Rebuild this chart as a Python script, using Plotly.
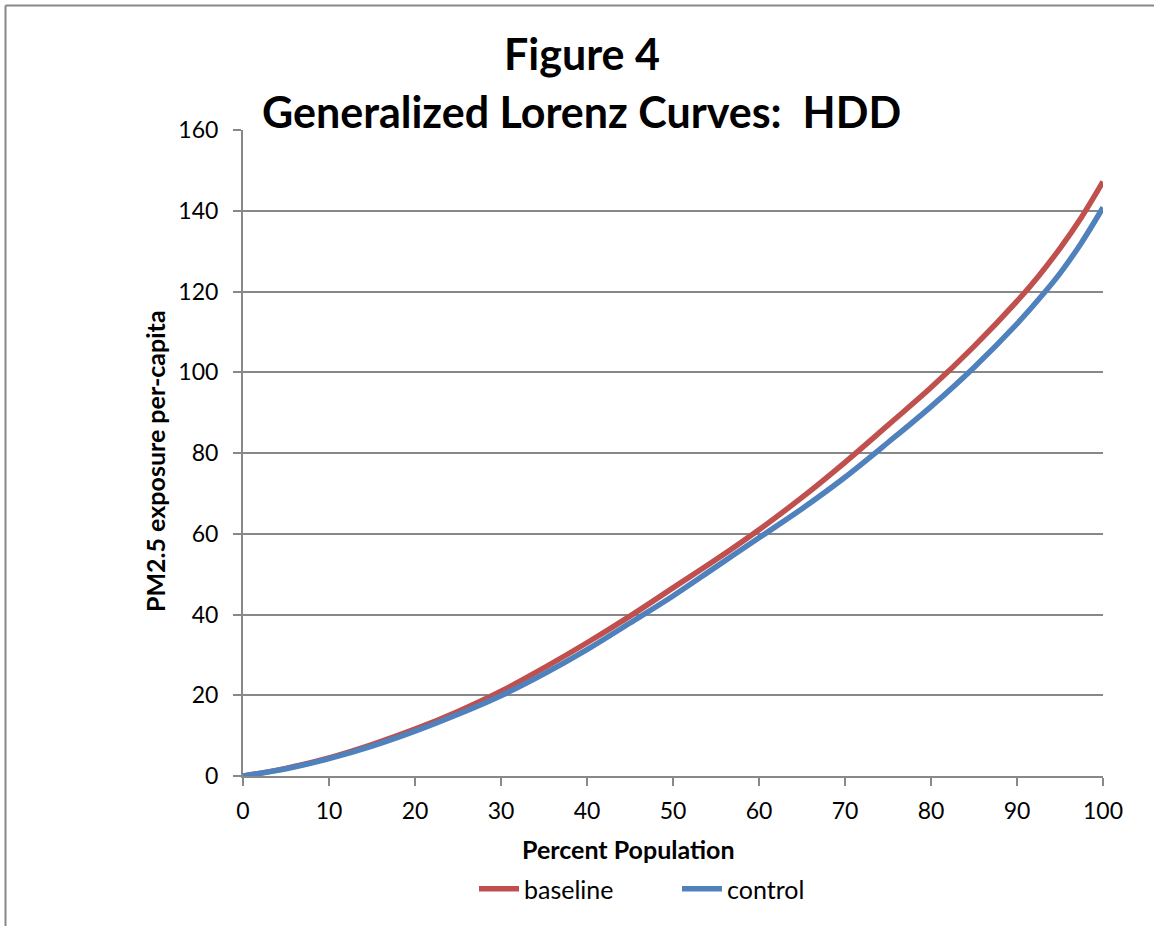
import plotly.graph_objects as go

# Data
pct_population = [0, 5, 10, 15, 20, 25, 30, 35, 40, 45, 50, 55, 60, 65, 70, 75, 80, 85, 90, 92.5, 95, 97.5, 100]
baseline = [0, 1.9, 4.5, 7.8, 11.6, 16.0, 21.0, 26.8, 33.0, 39.6, 46.6, 53.6, 61.0, 69.0, 77.7, 86.9, 96.2, 106.4, 117.6, 123.8, 130.7, 138.4, 147.2]
control = [0, 1.8, 4.3, 7.4, 11.1, 15.3, 19.9, 25.3, 31.3, 37.9, 44.6, 51.8, 59.0, 66.2, 74.0, 82.6, 91.5, 101.2, 112.0, 118.0, 124.5, 132.1, 140.8]
series_names = ["baseline", "control"]
x_ticks = [0, 10, 20, 30, 40, 50, 60, 70, 80, 90, 100]
y_ticks = [0, 20, 40, 60, 80, 100, 120, 140, 160]

FONT = "Lato"
GRID = "#888888"

W, H = 1154, 926
L, R, T, B = 243, 51, 130, 150
pw, ph = W - L - R, H - T - B

def px_x(p):
    return (p - L) / pw

def px_y(p):
    return (H - B - p) / ph

fig = go.Figure()
fig.add_trace(go.Scatter(x=pct_population, y=baseline, mode="lines", name=series_names[0],
                         line=dict(color="#C0504D", width=5.5, shape="spline", smoothing=1.0)))
fig.add_trace(go.Scatter(x=pct_population, y=control, mode="lines", name=series_names[1],
                         line=dict(color="#4F81BD", width=5.5, shape="spline", smoothing=1.0)))

fig.update_layout(
    width=W, height=H,
    margin=dict(l=L, r=R, t=T, b=B),
    paper_bgcolor="white", plot_bgcolor="white",
    font=dict(family=FONT, size=23, color="black"),
    showlegend=True,
    legend=dict(orientation="h", x=px_x(474), xanchor="left", y=px_y(889), yanchor="middle",
                font=dict(family=FONT, size=25, color="black"), itemwidth=40,
                entrywidth=148, entrywidthmode="pixels",
                bgcolor="rgba(0,0,0,0)"),
    xaxis=dict(range=[0, 100], tickvals=x_ticks, showgrid=False, zeroline=False,
               showline=True, linecolor=GRID, linewidth=2, ticks="outside", ticklen=8,
               tickcolor=GRID, tickwidth=2, ticklabelstandoff=5,
               tickfont=dict(size=23, family=FONT)),
    yaxis=dict(range=[0, 160], tickvals=y_ticks, showgrid=True, gridcolor=GRID, gridwidth=1.5,
               zeroline=False, showline=True, linecolor=GRID, linewidth=2, ticks="outside",
               ticklen=8, tickcolor=GRID, tickwidth=2, ticklabelstandoff=10,
               tickfont=dict(size=23, family=FONT)),
)

# Titles
fig.add_annotation(text="<b>Figure 4</b>", xref="paper", yref="paper", x=px_x(581.5), y=px_y(54),
                   xanchor="center", yanchor="middle", showarrow=False,
                   font=dict(family=FONT, size=43, color="black"))
fig.add_annotation(text="<b>Generalized Lorenz Curves:\u00a0 HDD</b>", xref="paper", yref="paper",
                   x=px_x(581.5), y=px_y(111), xanchor="center", yanchor="middle", showarrow=False,
                   font=dict(family=FONT, size=43, color="black"))
fig.add_annotation(text="<b>Percent Population</b>", xref="paper", yref="paper", x=px_x(628.5), y=px_y(849),
                   xanchor="center", yanchor="middle", showarrow=False,
                   font=dict(family=FONT, size=25, color="black"))
fig.add_annotation(text="<b>PM2.5 exposure per-capita</b>", xref="paper", yref="paper", x=px_x(155), y=px_y(461),
                   xanchor="center", yanchor="middle", showarrow=False, textangle=-90,
                   font=dict(family=FONT, size=25, color="black"))

# Chart-area frame (top and left edges visible)
fig.add_shape(type="line", xref="paper", yref="paper", x0=px_x(5.5), x1=px_x(W + 5), y0=px_y(5.5), y1=px_y(5.5),
              line=dict(color=GRID, width=2))
fig.add_shape(type="line", xref="paper", yref="paper", x0=px_x(5.5), x1=px_x(5.5), y0=px_y(5.5), y1=px_y(H + 5),
              line=dict(color=GRID, width=2))

fig.write_html("out.html")
